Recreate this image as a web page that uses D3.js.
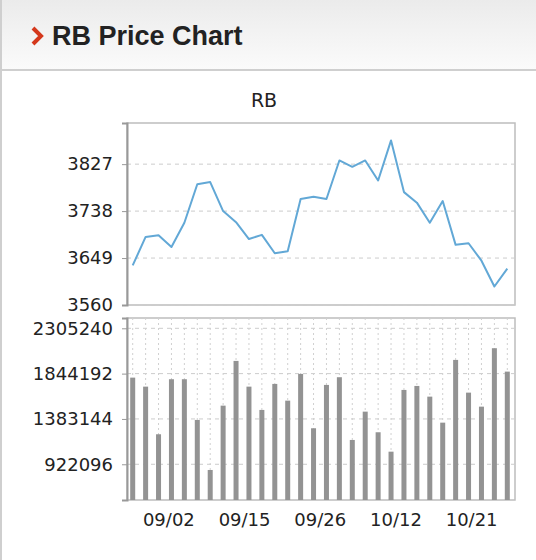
<!DOCTYPE html>
<html>
<head>
<meta charset="utf-8">
<script src="https://cdn.jsdelivr.net/npm/d3@7/dist/d3.min.js"></script>
<style>
  body { margin: 0; background: #fff; }
  svg { display: block; }
</style>
</head>
<body>
<div id="chart"></div>
<script>
// RB price + volume chart
const title = 'RB Price Chart';
const symbol = 'RB';

// daily close, 30 sessions
const prices = [3635, 3689, 3692, 3670, 3716, 3789, 3793, 3738, 3717, 3685,
                3693, 3658, 3662, 3761, 3765, 3761, 3834, 3822, 3834, 3796,
                3872, 3774, 3754, 3716, 3757, 3674, 3677, 3644, 3595, 3629];

// daily volume
const volumes = [1803500, 1711900, 1227400, 1787200, 1787200, 1373000, 864100, 1518500, 1973500, 1711900,
                 1474800, 1739400, 1569400, 1841200, 1288500, 1729200, 1807600, 1169400, 1457500, 1247800,
                 1050300, 1678300, 1719000, 1610100, 1345500, 1983700, 1650800, 1508300, 2102700, 1864600];

const priceTicks = [3560, 3649, 3738, 3827];
const volumeTicks = [922096, 1383144, 1844192, 2305240];
const dateLabels = ['09/02', '09/15', '09/26', '10/12', '10/21'];
const dateLabelPos = [2.8, 8.66, 14.52, 20.38, 26.24];

const width = 536, height = 560;
const svg = d3.select('#chart').append('svg')
    .attr('width', width)
    .attr('height', height)
    .attr('viewBox', [0, 0, width, height]);

// header
const grad = svg.append('defs').append('linearGradient')
    .attr('id', 'hdr').attr('x1', 0).attr('x2', 0).attr('y1', 0).attr('y2', 1);
grad.append('stop').attr('offset', '0%').attr('stop-color', '#ebebeb');
grad.append('stop').attr('offset', '100%').attr('stop-color', '#fbfbfb');

svg.append('rect').attr('x', 0).attr('y', 0).attr('width', width).attr('height', 70).attr('fill', 'url(#hdr)');
svg.append('line').attr('x1', 0).attr('x2', width).attr('y1', 70).attr('y2', 70)
    .attr('stroke', '#cfcfcf').attr('stroke-width', 2);
svg.append('line').attr('x1', 1).attr('x2', 1).attr('y1', 0).attr('y2', height)
    .attr('stroke', '#cfcfcf').attr('stroke-width', 2);

svg.append('path')
    .attr('d', 'M33,28 L41,36 L33,44')
    .attr('fill', 'none').attr('stroke', '#d4381c').attr('stroke-width', 4);
svg.append('text')
    .attr('x', 52).attr('y', 45)
    .attr('font-family', '"Liberation Sans", Arial, sans-serif')
    .attr('font-weight', 'bold').attr('font-size', 27)
    .attr('fill', '#222')
    .text(title);

svg.append('text')
    .attr('x', 264).attr('y', 107)
    .attr('text-anchor', 'middle')
    .attr('font-family', '"DejaVu Sans", sans-serif')
    .attr('font-size', 19).attr('fill', '#222')
    .text(symbol);

// panels
const left = 127, right = 515;
const pTop = 123, pBot = 305;
const vTop = 318, vBot = 500;

const x = d3.scaleLinear().domain([0, prices.length - 1]).range([left + 5.7, right - 7.7]);
const yP = d3.scaleLinear().domain([3560, 3905]).range([pBot, pTop]);
const yV = d3.scaleLinear().domain([558700, 2410000]).range([vBot, vTop]);

const font = '"DejaVu Sans", sans-serif';

function panel(y, ticks, top, bot, fmt) {
    const g = svg.append('g');
    g.append('rect')
        .attr('x', left).attr('y', top).attr('width', right - left).attr('height', bot - top)
        .attr('fill', '#fff').attr('stroke', '#bdbdbd').attr('stroke-width', 1.5);
    g.selectAll('line.grid')
        .data(ticks)
        .join('line')
        .attr('class', 'grid')
        .attr('x1', left).attr('x2', right)
        .attr('y1', d => y(d)).attr('y2', d => y(d))
        .attr('stroke', '#cccccc').attr('stroke-dasharray', '4,4');
    const axis = d3.axisLeft(y).tickValues(ticks).tickSize(5).tickPadding(9).tickFormat(fmt);
    const ag = svg.append('g').attr('transform', `translate(${left},0)`).call(axis);
    ag.select('.domain').attr('stroke', '#999').attr('stroke-width', 2);
    ag.selectAll('.tick line').attr('stroke', '#999');
    ag.selectAll('.tick text')
        .attr('font-family', font).attr('font-size', 18).attr('fill', '#222');
    return g;
}

const pg = panel(yP, priceTicks, pTop, pBot, d3.format('d'));
const vg = panel(yV, volumeTicks, vTop, vBot, d3.format('d'));

// vertical dotted grid in the volume panel
vg.selectAll('line.vgrid')
    .data(volumes)
    .join('line')
    .attr('class', 'vgrid')
    .attr('x1', (d, i) => x(i)).attr('x2', (d, i) => x(i))
    .attr('y1', vTop).attr('y2', vBot)
    .attr('stroke', '#d0d0d0').attr('stroke-dasharray', '2,3');

// volume bars
vg.selectAll('rect.bar')
    .data(volumes)
    .join('rect')
    .attr('class', 'bar')
    .attr('x', (d, i) => x(i) - 2.5)
    .attr('width', 5)
    .attr('y', d => yV(d))
    .attr('height', d => vBot - yV(d))
    .attr('fill', '#939393');

// price line
const line = d3.line().x((d, i) => x(i)).y(d => yP(d));
pg.append('path')
    .datum(prices)
    .attr('d', line)
    .attr('fill', 'none')
    .attr('stroke', '#62a8d6')
    .attr('stroke-width', 2)
    .attr('stroke-linejoin', 'round');

// date labels
svg.append('g')
    .selectAll('text')
    .data(dateLabels)
    .join('text')
    .attr('x', (d, i) => x(dateLabelPos[i]))
    .attr('y', 526)
    .attr('text-anchor', 'middle')
    .attr('font-family', font).attr('font-size', 18).attr('fill', '#222')
    .text(d => d);
</script>
</body>
</html>
